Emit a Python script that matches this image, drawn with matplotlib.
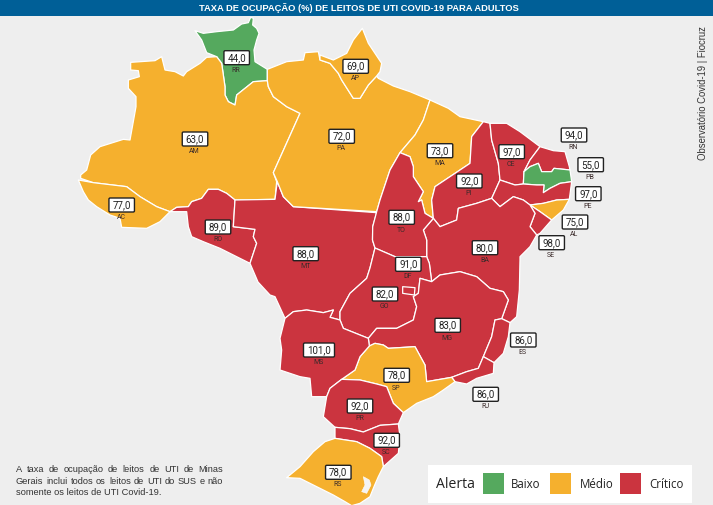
import matplotlib
matplotlib.use("Agg")
import matplotlib.pyplot as plt
from matplotlib.patches import Polygon, Rectangle, FancyBboxPatch

# ---------- data ----------
states = ["RR","AM","AC","RO","MT","PA","AP","MA","PI","CE","RN","PB","PE","AL","SE","BA","TO","GO","DF","MG","ES","RJ","SP","MS","PR","SC","RS"]
values = [44,63,77,89,88,72,69,73,92,97,94,55,97,75,98,80,88,82,91,83,86,86,78,101,92,92,78]
levels = ["Baixo","Médio","Médio","Crítico","Crítico","Médio","Médio","Médio","Crítico","Crítico","Crítico","Baixo","Crítico","Médio","Crítico","Crítico","Crítico","Crítico","Crítico","Crítico","Crítico","Crítico","Médio","Crítico","Crítico","Crítico","Médio"]
level_names = ["Baixo","Médio","Crítico"]
level_colors = ["#55A95E","#F5B02E","#CB343F"]
title = "TAXA DE OCUPAÇÃO (%) DE LEITOS DE UTI COVID-19 PARA ADULTOS"
side_note = "Observatório Covid-19 | Fiocruz"
note_lines = ["A taxa de ocupação de leitos de UTI de Minas",
              "Gerais inclui todos os leitos de UTI do SUS e não",
              "somente os leitos de UTI Covid-19."]

def z1(p): return [(x/3+60, y/3) for x, y in p]
def z2(p): return [(x/3+360, y/3) for x, y in p]
def z3(p): return [(x/3+270, y/3+240) for x, y in p]

shapes = {
 "RR": z1([(405,92),(430,100),(470,95),(520,90),(545,72),(565,68),(572,52),(580,55),(578,75),(590,85),(597,100),(590,120),(582,150),(585,185),(622,208),(622,242),(580,245),(555,265),(530,285),(525,315),(505,305),(495,285),(495,260),(485,190),(470,170),(440,158),(425,120)]),
 "AM": z1([(62,535),(100,548),(200,560),(240,590),(290,620),(330,635),(350,622),(385,620),(395,605),(425,595),(445,568),(475,568),(500,580),(525,600),(645,598),(650,545),(640,518),(720,340),(680,320),(640,290),(625,260),(622,242),(580,245),(555,265),(530,285),(525,315),(505,305),(495,285),(495,260),(485,190),(470,170),(440,172),(420,190),(380,215),(370,228),(345,215),(315,210),(305,170),(285,182),(212,187),(212,210),(235,212),(238,230),(205,240),(205,265),(228,290),(228,320),(210,420),(190,418),(120,440),(92,465),(80,510),(62,525)]),
 "AC": z1([(55,540),(100,548),(200,560),(240,590),(290,620),(330,635),(300,665),(260,685),(185,682),(180,655),(150,645),(110,620),(85,600),(70,575)]),
 "RO": z1([(330,635),(350,622),(385,620),(395,605),(425,595),(445,568),(475,568),(500,580),(525,600),(520,680),(585,688),(580,710),(590,730),(570,790),(530,770),(480,745),(430,725),(395,710),(385,680),(380,635)]),
 "MT": z1([(525,600),(645,598),(652,545),(670,590),(700,620),(950,638)]) + [(372.7,226.7),(372.5,240),(375,248),(370,268)] + z3([(290,115),(240,160),(210,215),(210,240),(180,232),(190,210),(160,218),(110,210),(70,215),(45,235),(15,170),(0,165)]) + [(258,282)] + z1([(570,790),(590,730),(580,710),(585,688),(520,680)]),
 "PA": z1([(622,242),(622,208),(680,185),(730,180),(735,158),(775,155),(780,180),(810,190),(835,220),(845,240),(880,295),(900,295),(925,255),(950,228)]) + z2([(55,235),(100,258),(150,275),(210,300),(190,360),(165,405),(120,458),(90,510),(60,600),(50,635)]) + z1([(700,620),(670,590),(652,545),(640,518),(720,340),(680,320),(640,290),(625,260)]),
 "AP": z1([(780,165),(820,180),(860,160),(880,120),(907,85),(925,130),(965,190),(960,215),(950,228),(925,255),(900,295),(880,295),(845,240),(835,220),(810,190),(780,180)]),
 "MA": z2([(210,300),(265,325),(300,350),(370,365),(335,410),(330,490),(270,530),(225,560),(215,600),(220,655),(195,640),(185,600),(175,605),(190,575),(160,530),(160,500),(150,470),(120,458),(165,405),(190,360)]),
 "PI": z2([(370,365),(390,370),(395,420),(415,490),(420,540),(395,595),(350,610),(295,625),(290,660),(240,680),(220,655),(215,600),(225,560),(270,530),(330,490),(335,410)]),
 "CE": z2([(390,370),(440,370),(480,395),(540,440),(510,480),(492,515),(490,552),(465,555),(420,540),(415,490),(395,420)]),
 "RN": z2([(540,440),(580,452),(615,455),(628,500),(630,510),(582,505),(575,515),(545,515),(535,490),(510,500),(492,515),(510,480)]),
 "PB": z2([(492,515),(510,500),(535,490),(545,515),(575,515),(582,505),(630,510),(635,545),(600,550),(570,565),(550,578),(552,555),(530,555),(490,552)]),
 "PE": z2([(420,540),(465,555),(490,552),(530,555),(552,555),(550,578),(570,565),(600,550),(635,545),(628,598),(590,600),(550,610),(510,615),(490,600),(460,590),(420,620),(395,595)]),
 "AL": z2([(510,615),(550,610),(590,600),(628,598),(610,630),(575,660),(540,635)]),
 "SE": z2([(510,615),(540,635),(575,660),(540,700),(530,705),(510,680),(525,640)]),
 "BA": z2([(395,595),(420,620),(460,590),(490,600),(510,615),(525,640),(510,680),(530,705),(510,740),(480,770)]) + z3([(750,60),(748,150),(740,230),(720,248),(695,236),(715,180),(700,155),(660,145),(620,110),(570,95),(510,105),(485,125),(478,70),(470,50),(470,0)]) + z2([(190,690),(220,655),(240,680),(290,660),(295,625),(350,610)]),
 "TO": z2([(120,458),(150,470),(160,500),(160,530),(190,575),(175,605),(185,600),(195,640),(220,655),(190,690),(200,720)]) + z3([(470,50),(375,50)]) + [(375,248),(372.5,240),(372.7,226.7)] + z2([(50,635),(60,600),(90,510)]),
 "GO": [(375,248)] + z3([(375,50),(470,50),(478,70),(485,125),(450,115),(445,160),(430,170),(440,200),(430,240),(380,265),(320,265),(295,295),(220,265),(210,240),(210,215),(240,160),(290,115)]) + [(370,268)],
 "DF": z3([(398,140),(435,143),(433,165),(398,160)]),
 "MG": z3([(485,125),(510,105),(570,95),(620,110),(660,145),(700,155),(715,180),(695,236),(675,240),(665,290),(640,350),(625,385),(590,395),(545,412),(470,425),(465,375),(435,320),(355,325),(340,315),(315,310),(298,318),(295,295),(320,265),(380,265),(430,240),(440,200),(430,170),(445,160),(450,115)]),
 "ES": z3([(695,236),(720,248),(715,290),(700,340),(672,368),(640,350),(665,290),(675,240)]),
 "RJ": z3([(545,412),(590,395),(625,385),(640,350),(672,368),(670,400),(620,415),(590,432),(555,425)]),
 "SP": z3([(298,318),(315,310),(340,315),(355,325),(435,320),(465,375),(470,425),(545,412),(555,425),(520,450),(490,470),(440,490),(400,518),(370,490),(350,440),(320,432),(270,420),(215,418),(255,390),(270,350)]),
 "MS": z3([(45,235),(70,215),(110,210),(160,218),(190,210),(180,232),(210,240),(220,265),(295,295),(298,318),(270,350),(255,390),(215,418),(180,445),(170,470),(125,470),(120,415),(90,410),(30,390),(35,330),(30,295)]),
 "PR": z3([(180,445),(215,418),(270,420),(320,432),(350,440),(370,490),(400,518),(385,552),(330,556),(280,576),(240,566),(195,562),(160,530),(170,470)]),
 "SC": z3([(195,562),(240,566),(280,576),(330,556),(385,552),(390,590),(385,640),(340,680),(335,650),(300,625),(260,605),(195,595)]),
 "RS": z3([(195,595),(260,605),(300,625),(335,650),(340,680),(325,710),(312,740),(300,770),(270,790),(245,797),(225,785),(190,765),(130,735),(90,715),(50,713),(90,680),(130,635),(165,605)]),
}
lagoon = z3([(280,710),(298,720),(303,735),(290,760),(275,755),(285,735)])

value_pos = {"RR":(236.7,57.7),"AM":(195,139),"AC":(121.7,205),"RO":(218,227),"MT":(305.7,253.7),"PA":(341.7,136.3),"AP":(355.7,66.3),
 "MA":(440,150.7),"CE":(511.7,151.7),"PI":(469.3,181),"TO":(401.7,217.3),"RN":(574,135),"PB":(590.7,164.7),"PE":(588.3,193.7),"AL":(575,222),"SE":(551.7,242.7),"BA":(485,247.7),
 "DF":(408.3,264.3),"GO":(385,294),"MG":(447.7,325.3),"MS":(319,350),"ES":(523.3,340),"SP":(396.7,375.3),"RJ":(485.7,394.3),"PR":(360,406),"SC":(386.7,440.3),"RS":(338.3,472.3)}

BG = "#EEEEEE"
W, H = 713, 505
fig = plt.figure(figsize=(W/100, H/100), dpi=100, facecolor=BG)
ax = fig.add_axes([0, 0, 1, 1])
ax.set_xlim(0, W); ax.set_ylim(H, 0); ax.axis("off")
color_of = dict(zip(level_names, level_colors))

ax.add_patch(Rectangle((0, 0), W, 16, fc="#005F97", ec="none", zorder=1))
ax.text(359, 8.4, title, color="white", fontsize=6.72, fontweight="bold", family="Liberation Sans", ha="center", va="center", zorder=5)
ax.text(702.5, 93.5, side_note, color="#333333", fontsize=6.85, family="Liberation Sans", rotation=90, ha="center", va="center")

for st, lv in zip(states, levels):
    ax.add_patch(Polygon(shapes[st], closed=True, fc=color_of[lv], ec="white", lw=0.9, joinstyle="round", zorder=2 if st != "DF" else 3))
ax.add_patch(Polygon(lagoon, closed=True, fc="#F4F4F4", ec="white", lw=0.4, zorder=3))

for st, v in zip(states, values):
    x, y = value_pos[st]
    label = f"{v:.1f}".replace(".", ",")
    bw = 31 if v >= 100 else 25.5
    ax.add_patch(FancyBboxPatch((x-bw/2, y-7), bw, 14, boxstyle="round,pad=0,rounding_size=1.2", fc="white", ec="#222222", lw=1.0, zorder=6))
    ax.text(x, y+0.2, label, fontsize=7, family="Roboto", color="#222222", ha="center", va="center", zorder=7)
    ax.text(x-0.5, y+12.7, st, fontsize=5, family="Roboto", color="#3a2a2a", ha="center", va="center", zorder=7)

# legend
ax.add_patch(Rectangle((428, 465), 264, 38, fc="white", ec="none", zorder=6))
ax.text(435.5, 484, "Alerta", fontsize=10.1, family="Open Sans", color="#222222", ha="left", va="center", zorder=7)
for name, col, sx, tx in zip(level_names, level_colors, (482.5, 550, 620), (511, 580, 649)):
    ax.add_patch(Rectangle((sx, 473.3), 21, 20.7, fc=col, ec="none", zorder=7))
    ax.text(tx, 484, name, fontsize=8.3, family="Open Sans", color="#222222", ha="left", va="center", zorder=7)

# footnote (justified first lines)
fig.canvas.draw()
r = fig.canvas.get_renderer()
left, right = 16, 223
FS = 6.65
for i, (line, y) in enumerate(zip(note_lines, (470, 481.3, 492.5))):
    if i == 2:
        ax.text(left, y, line, fontsize=FS, family="Liberation Sans", color="#333333", ha="left", va="center")
        continue
    words = line.split(" ")
    ts = [ax.text(0, y, w, fontsize=FS, family="Liberation Sans", color="#333333", ha="left", va="center") for w in words]
    ws = [t.get_window_extent(r).width for t in ts]
    gap = (right - left - sum(ws)) / (len(words) - 1)
    x = left
    for t, w in zip(ts, ws):
        t.set_x(x); x += w + gap

fig.savefig("out.png", dpi=100, facecolor=BG)
